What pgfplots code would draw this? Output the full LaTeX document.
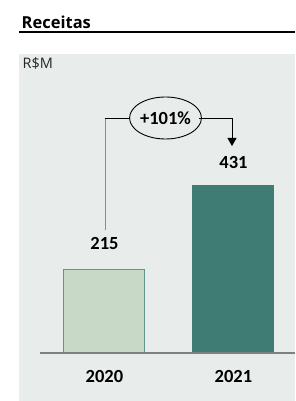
\documentclass[border=0pt]{standalone}
\usepackage{pgfplots}
\pgfplotsset{compat=1.18}
\usepackage{fontspec}
\setmainfont{Carlito}
\newfontfamily\osfont{Open Sans}
\usetikzlibrary{shapes.geometric,arrows.meta}
\definecolor{bg}{HTML}{E8EDEC}
\definecolor{cA}{HTML}{C9D9C8}
\definecolor{cAd}{HTML}{5E978B}
\definecolor{cB}{HTML}{3F7D74}
\definecolor{baseg}{HTML}{808080}
\begin{document}
\begin{tikzpicture}[x=1pt,y=1pt]
\path[use as bounding box] (0,0) rectangle (295,401);
\fill[bg] (19,0) rectangle (295,347);
\node[anchor=base west, inner sep=0, font=\osfont\bfseries\fontsize{16.5}{17}\selectfont] at (21.5,372) {Receitas};
\draw[line width=2pt] (19,368.5) -- (295,368.5);
\node[anchor=base west, inner sep=0, font=\osfont\fontsize{14.5}{15}\selectfont, text=black!85] at (22.5,332) {R\$M};
\begin{axis}[
  at={(40pt,48pt)}, anchor=south west,
  scale only axis, width=255pt, height=299pt,
  xmin=-0.5, xmax=1.477, ymin=0, ymax=770,
  axis line style={draw=none},
  ytick=\empty,
  xtick={0,1}, xticklabels={\textbf{2020},\textbf{2021}},
  major tick length=0pt,
  xticklabel style={font=\fontsize{18.5}{19}\selectfont, anchor=center, yshift=-23pt},
  /pgf/number format/assume math mode=true,
  nodes near coords={\textbf{\pgfmathprintnumber{\pgfplotspointmeta}}},
  every node near coord/.append style={font=\fontsize{18.5}{19}\selectfont, anchor=center, text=black},
  clip=false,
]
\addplot[ybar, bar width=81pt, bar shift=0pt, fill=cA, draw=cAd, line width=1pt,
  every node near coord/.append style={yshift=26pt}] coordinates {(0,215)};
\addplot[ybar, bar width=81pt, bar shift=0pt, fill=cB, draw=cB, line width=1pt,
  every node near coord/.append style={yshift=23pt}] coordinates {(1,431)};
\draw[baseg, line width=1.5pt] (rel axis cs:0,0) -- (rel axis cs:1,0);
\end{axis}
\draw[black!45, line width=0.9pt] (105,171) -- (105,283);
\draw[black, line width=0.9pt] (104.6,283) -- (132,283);
\node[draw, ellipse, line width=0.9pt, fill=bg, minimum width=67pt, minimum height=42pt, inner sep=0pt,
  font=\fontsize{18.5}{19}\selectfont\bfseries] at (165.5,283) {+101\%};
\draw[black, line width=0.9pt, -{Triangle[length=8pt,width=9pt]}] (199,283) -- (232,283) -- (232,255);
\end{tikzpicture}
\end{document}
